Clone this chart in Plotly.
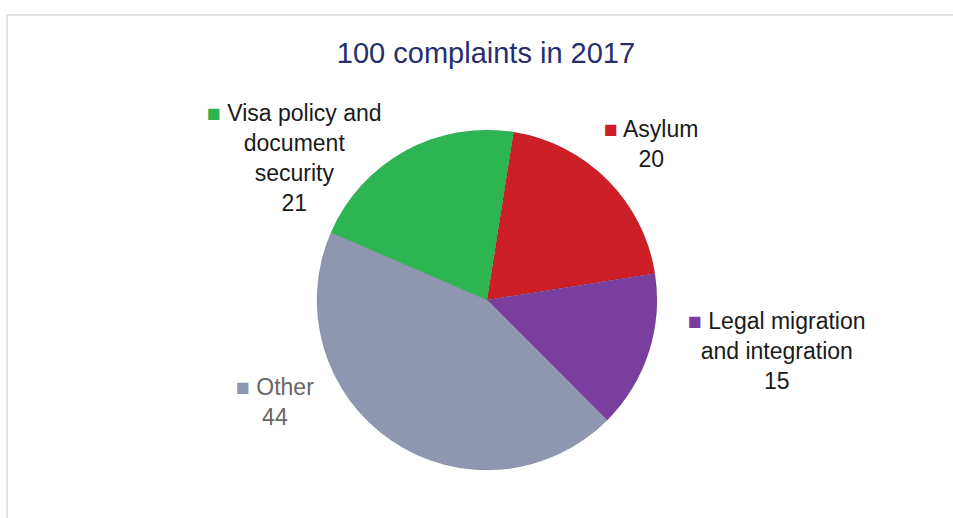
import plotly.graph_objects as go

categories = ["Asylum", "Legal migration and integration", "Other", "Visa policy and document security"]
values = [20, 15, 44, 21]
colors = ["#CC1F27", "#7A3E9E", "#8E96B0", "#2DB552"]
label_lines = [
    ["Asylum"],
    ["Legal migration", "and integration"],
    ["Other"],
    ["Visa policy and", "document", "security"],
]
label_text_colors = ["#1a1a1a", "#1a1a1a", "#666666", "#1a1a1a"]
# label anchor positions (pixels from top-left)
label_pos = [(651, 144), (777, 351), (275, 402), (294, 158)]

W, H = 953, 518
cx, cy, r = 487, 300, 170

fig = go.Figure()
fig.add_trace(go.Pie(
    labels=categories,
    values=values,
    sort=False,
    direction="clockwise",
    rotation=9,
    marker=dict(colors=colors, line=dict(color="rgba(0,0,0,0.15)", width=0.6)),
    textinfo="none",
    hoverinfo="label+value",
    showlegend=False,
    domain=dict(x=[(cx - r) / W, (cx + r) / W], y=[(H - cy - r) / H, (H - cy + r) / H]),
))

for cat, val, col, lines, tcol, (px, py) in zip(categories, values, colors, label_lines, label_text_colors, label_pos):
    first = f'<span style="color:{col};font-size:23px">■</span> ' + lines[0]
    text = "<br>".join([first] + lines[1:] + [str(val)])
    fig.add_annotation(
        x=px / W, y=1 - py / H, xref="paper", yref="paper",
        text=text, showarrow=False, align="center",
        xanchor="center", yanchor="middle",
        font=dict(family="Liberation Sans, Arial, sans-serif", size=23, color=tcol),
    )

# chart frame
fig.add_shape(type="line", xref="paper", yref="paper",
              x0=7 / W, y0=0, x1=7 / W, y1=1 - 15 / H,
              line=dict(color="#d9d9d9", width=1.5))
fig.add_shape(type="line", xref="paper", yref="paper",
              x0=7 / W, y0=1 - 15 / H, x1=1, y1=1 - 15 / H,
              line=dict(color="#d9d9d9", width=1.5))

fig.update_layout(
    width=W, height=H,
    margin=dict(l=0, r=0, t=0, b=0),
    paper_bgcolor="white", plot_bgcolor="white",
    title=dict(text="100 complaints in 2017", x=486 / W, xanchor="center",
               y=1 - 53 / H, yanchor="middle",
               font=dict(family="Liberation Sans, Arial, sans-serif", size=29, color="#262F6B")),
)

fig.write_html("out.html", config={"displayModeBar": False},
               post_script="document.body.style.margin='0';document.body.style.overflow='hidden';")
